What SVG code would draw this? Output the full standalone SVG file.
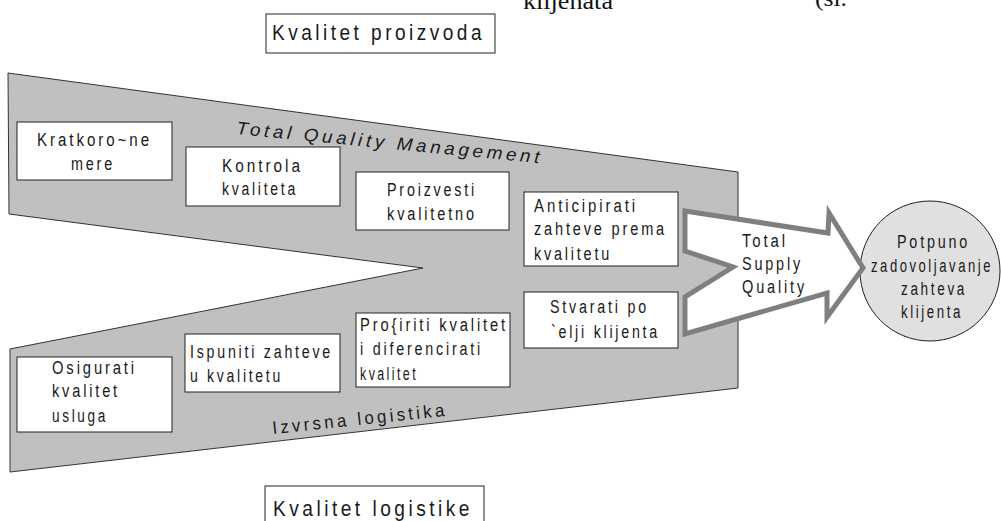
<svg xmlns="http://www.w3.org/2000/svg" width="1001" height="521" viewBox="0 0 1001 521">
<style>
.bg{fill:#ffffff}
.shape{fill:#c0c0c0;stroke:#333333;stroke-width:1}
.box{fill:#ffffff;stroke:#222222;stroke-width:1}
.t{font-family:"Liberation Sans",Arial,sans-serif;font-size:18px;letter-spacing:3.5px;fill:#1a1a1a}
.big{font-size:22px;letter-spacing:4px}
.ser{font-family:"Liberation Serif","Times New Roman",serif;font-size:24px;fill:#111}
.arrow{fill:#ffffff;stroke:#7f7f7f;stroke-width:5;stroke-linejoin:miter}
.circ{fill:#e0e0e0;stroke:#222222;stroke-width:1}
</style>
<rect class="bg" x="0" y="0" width="1001" height="521"/>
<text class="ser" x="523" y="9" textLength="90" lengthAdjust="spacingAndGlyphs">klijenata</text>
<text class="ser" x="815" y="6" textLength="32" lengthAdjust="spacingAndGlyphs">(sl.</text>

<g id="band">
<polygon class="shape" points="8,73 738,172 738,388 10,472 10,349 423,268 9,214"/>
<text class="t" font-style="italic" font-size="22" x="236" y="134" transform="rotate(5.5 236 134)" textLength="308" lengthAdjust="spacingAndGlyphs">Total Quality Management</text>
<text class="t" font-size="21" x="273" y="434" transform="rotate(-6 273 434)" textLength="176" lengthAdjust="spacingAndGlyphs">Izvrsna logistika</text>
</g>

<g id="kvalitet-proizvoda">
<rect class="box" x="266" y="14" width="229" height="39"/>
<text class="t big" x="272" y="40" textLength="213" lengthAdjust="spacingAndGlyphs">Kvalitet proizvoda</text>
</g>

<g id="kvalitet-logistike">
<rect class="box" x="265" y="486" width="219" height="45"/>
<text class="t big" x="273" y="516" textLength="200" lengthAdjust="spacingAndGlyphs">Kvalitet logistike</text>
</g>

<g id="kratkorocne">
<rect class="box" x="17" y="122" width="155" height="58"/>
<text class="t" x="37" y="146" textLength="115" lengthAdjust="spacingAndGlyphs">Kratkoro~ne</text>
<text class="t" x="71" y="170" textLength="44" lengthAdjust="spacingAndGlyphs">mere</text>
</g>

<g id="kontrola">
<rect class="box" x="186" y="147" width="154" height="59"/>
<text class="t" x="222" y="172" textLength="81" lengthAdjust="spacingAndGlyphs">Kontrola</text>
<text class="t" x="222" y="195" textLength="76" lengthAdjust="spacingAndGlyphs">kvaliteta</text>
</g>

<g id="proizvesti">
<rect class="box" x="356" y="172" width="153" height="58"/>
<text class="t" x="387" y="196" textLength="90" lengthAdjust="spacingAndGlyphs">Proizvesti</text>
<text class="t" x="387" y="220" textLength="90" lengthAdjust="spacingAndGlyphs">kvalitetno</text>
</g>

<g id="anticipirati">
<rect class="box" x="524" y="192" width="154" height="74"/>
<text class="t" x="534" y="212" textLength="104" lengthAdjust="spacingAndGlyphs">Anticipirati</text>
<text class="t" x="534" y="235" textLength="133" lengthAdjust="spacingAndGlyphs">zahteve prema</text>
<text class="t" x="534" y="260" textLength="78" lengthAdjust="spacingAndGlyphs">kvalitetu</text>
</g>

<g id="stvarati">
<rect class="box" x="524" y="292" width="154" height="56"/>
<text class="t" x="550" y="313" textLength="99" lengthAdjust="spacingAndGlyphs">Stvarati po</text>
<text class="t" x="551" y="338" textLength="109" lengthAdjust="spacingAndGlyphs">`elji klijenta</text>
</g>

<g id="prosiriti">
<rect class="box" x="356" y="313" width="154" height="74"/>
<text class="t" x="360" y="331" textLength="148" lengthAdjust="spacingAndGlyphs">Pro{iriti kvalitet</text>
<text class="t" x="360" y="355" textLength="123" lengthAdjust="spacingAndGlyphs">i diferencirati</text>
<text class="t" x="360" y="380" textLength="58" lengthAdjust="spacingAndGlyphs">kvalitet</text>
</g>

<g id="ispuniti">
<rect class="box" x="185" y="334" width="155" height="58"/>
<text class="t" x="190" y="358" textLength="143" lengthAdjust="spacingAndGlyphs">Ispuniti zahteve</text>
<text class="t" x="190" y="382" textLength="93" lengthAdjust="spacingAndGlyphs">u kvalitetu</text>
</g>

<g id="osigurati">
<rect class="box" x="17" y="357" width="155" height="75"/>
<text class="t" x="52" y="374" textLength="85" lengthAdjust="spacingAndGlyphs">Osigurati</text>
<text class="t" x="52" y="397" textLength="68" lengthAdjust="spacingAndGlyphs">kvalitet</text>
<text class="t" x="52" y="422" textLength="56" lengthAdjust="spacingAndGlyphs">usluga</text>
</g>

<g id="potpuno">
<circle class="circ" cx="930" cy="271" r="70"/>
<text class="t" x="897" y="248" textLength="73" lengthAdjust="spacingAndGlyphs">Potpuno</text>
<text class="t" x="871" y="272" font-size="17" textLength="122" lengthAdjust="spacingAndGlyphs">zadovoljavanje</text>
<text class="t" x="901" y="295" textLength="66" lengthAdjust="spacingAndGlyphs">zahteva</text>
<text class="t" x="901" y="318" textLength="62" lengthAdjust="spacingAndGlyphs">klijenta</text>
</g>

<g id="connectors">
<path class="arrow" d="M685,211 L828,233 L829,213 L863,268 L827,317 L827,293 L685,334 L685,297 L733,267 L685,251 Z"/>
<text class="t" x="742" y="247" textLength="46" lengthAdjust="spacingAndGlyphs">Total</text>
<text class="t" x="742" y="270" textLength="61" lengthAdjust="spacingAndGlyphs">Supply</text>
<text class="t" x="742" y="293" textLength="65" lengthAdjust="spacingAndGlyphs">Quality</text>
</g>
</svg>
